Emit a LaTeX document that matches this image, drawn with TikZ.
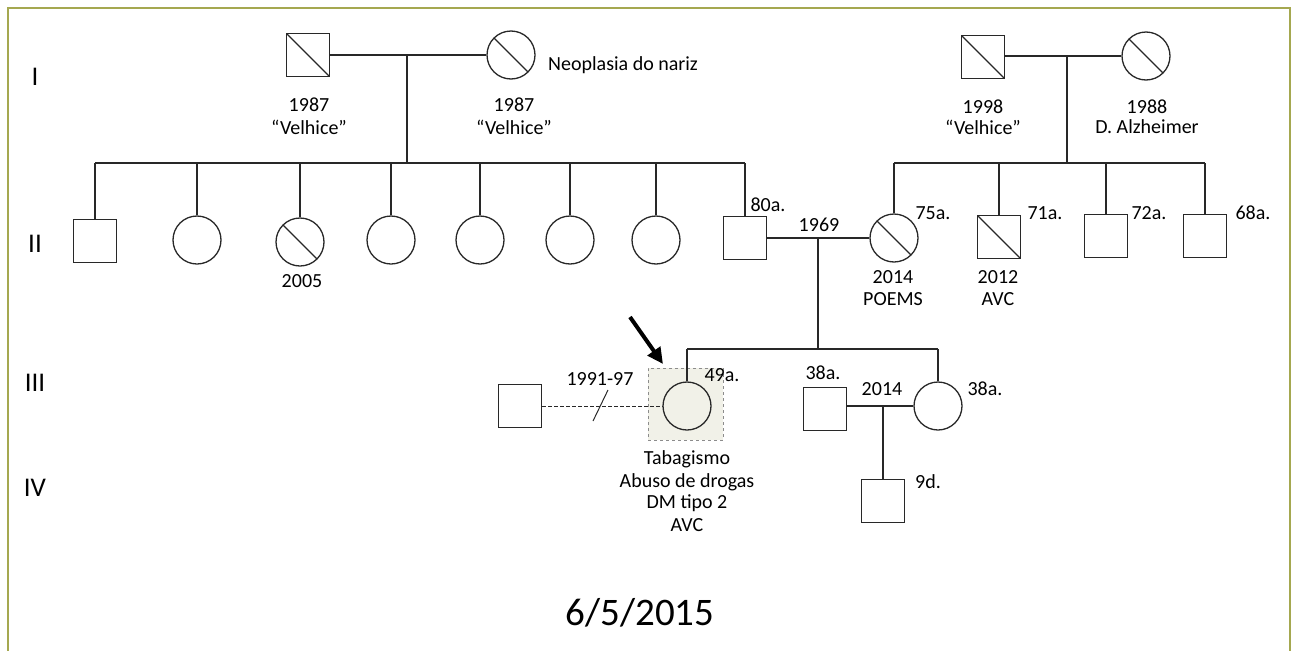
\documentclass[tikz,border=0pt]{standalone}
\usepackage{fontspec}
\setmainfont{Carlito}
\usetikzlibrary{arrows.meta}
\definecolor{frameol}{RGB}{165,168,80}
\definecolor{probfill}{RGB}{241,241,232}
\definecolor{ln}{RGB}{40,40,40}
\begin{document}
\begin{tikzpicture}[x=1pt,y=-1pt,
 every node/.style={font=\fontsize{20}{24}\selectfont, text=black},
 male/.style={draw=ln, line width=1.3pt, rectangle, minimum size=43pt, inner sep=0pt, fill=white},
 female/.style={draw=ln, line width=1.3pt, circle, minimum size=48pt, inner sep=0pt, fill=white},
 dead/.style={path picture={\draw[ln,line width=1.3pt] (path picture bounding box.north west) -- (path picture bounding box.south east);}},
 lbl/.style={inner sep=0pt},
 rel/.style={draw=ln, line width=1.3pt},
 gen/.style={font=\fontsize{27}{30}\selectfont, inner sep=0pt}
]
\useasboundingbox (0,0) rectangle (1294,651);
% frame
\draw[frameol, line width=2pt] (8,700) -- (8,8) -- (1290,8) -- (1290,700);

% generation labels
\node[gen] (gI) at (35,77) {I};
\node[gen] (gII) at (35,244) {II};
\node[gen] (gIII) at (35,383) {III};
\node[gen] (gIV) at (35,488) {IV};

% Generation I left
\node[male,dead] (A1) at (308,55) {};
\node[female,dead] (A2) at (511,55) {};
\node[lbl] (A1y) at (309,105) {1987};
\node[lbl] (A1c) at (309,127) {“Velhice”};
\node[lbl] (A2y) at (514,105) {1987};
\node[lbl] (A2c) at (514,127) {“Velhice”};
\node[lbl,anchor=west] (A2n) at (548,65) {Neoplasia do nariz};

% Generation I right
\node[male,dead] (B1) at (983,57) {};
\node[female,dead] (B2) at (1146,56) {};
\node[lbl] (B1y) at (983,107) {1998};
\node[lbl] (B1c) at (983,127) {“Velhice”};
\node[lbl] (B2y) at (1147,107) {1988};
\node[lbl] (B2c) at (1147,127) {D. Alzheimer};

% Generation II left sibship
\node[male] (c1) at (95,241) {};
\node[female] (c2) at (197,240) {};
\node[female,dead] (c3) at (300,242) {};
\node[female] (c4) at (391,240) {};
\node[female] (c5) at (480,240) {};
\node[female] (c6) at (570,240) {};
\node[female] (c7) at (656,240) {};
\node[male] (c8) at (745,238) {};
\node[lbl] (c3y) at (302,281) {2005};
\node[lbl] (c8a) at (768,205) {80a.};

% Generation II right sibship
\node[female,dead] (d1) at (894,238) {};
\node[male,dead] (d2) at (999,237) {};
\node[male] (d3) at (1106,236) {};
\node[male] (d4) at (1205,236) {};
\node[lbl] (d1a) at (933,213) {75a.};
\node[lbl] (d1y) at (893,277) {2014};
\node[lbl] (d1c) at (893,299) {POEMS};
\node[lbl] (d2a) at (1045,213) {71a.};
\node[lbl] (d2y) at (998,277) {2012};
\node[lbl] (d2c) at (998,299) {AVC};
\node[lbl] (d3a) at (1149,213) {72a.};
\node[lbl] (d4a) at (1253,213) {68a.};
\node[lbl] (m3y) at (819,225) {1969};

% Generation III
\node[draw=black!45, dashed, line width=0.7pt, fill=probfill, minimum width=75pt, minimum height=72pt, inner sep=0pt] (pbox) at (685.5,404) {};
\node[female, fill=probfill] (P) at (687,406) {};
\node[male] (X) at (520,406) {};
\node[male] (Q) at (825,409) {};
\node[female] (R) at (938,406) {};
\node[lbl] (Pa) at (722,375) {49a.};
\node[lbl] (Xy) at (600,379) {1991-97};
\node[lbl] (Qa) at (823,373) {38a.};
\node[lbl] (Ra) at (985,389) {38a.};
\node[lbl] (QRy) at (882,389) {2014};
\node[lbl] (P1) at (687,459) {Tabagismo};
\node[lbl] (P2) at (687,482) {Abuso de drogas};
\node[lbl] (P3) at (687,503) {DM tipo 2};
\node[lbl] (P4) at (687,525) {AVC};

% Generation IV
\node[male] (S) at (883,501) {};
\node[lbl] (Sa) at (928,482) {9d.};

% date
\node[font=\fontsize{39}{44}\selectfont, inner sep=0pt] (date) at (640,613) {6/5/2015};

% connectors gen I left
\coordinate (m1) at (407,55);
\coordinate (s1) at (407,163);
\draw[rel] (A1.east) -- (A2.west);
\draw[rel] (m1) -- (s1);
\draw[rel] (c1.north |- s1) -- (c8.north |- s1);
\foreach \c in {c1,c2,c3,c4,c5,c6,c7,c8} \draw[rel] (\c.north) -- (\c.north |- s1);

% connectors gen I right
\coordinate (m2) at (1067,56);
\coordinate (s2) at (1067,163);
\draw[rel] (B1.east |- m2) -- (B2.west);
\draw[rel] (m2) -- (s2);
\draw[rel] (d1.north |- s2) -- (d4.north |- s2);
\foreach \c in {d1,d2,d3,d4} \draw[rel] (\c.north) -- (\c.north |- s2);

% marriage II
\coordinate (m3) at (818,238);
\coordinate (s3) at (818,349);
\draw[rel] (c8.east) -- (d1.west);
\draw[rel] (m3) -- (s3);
\draw[rel] (P.north |- s3) -- (R.north |- s3);
\draw[rel] (P.north) -- (P.north |- s3);
\draw[rel] (R.north) -- (R.north |- s3);

% gen III relations
\draw[ln, line width=1pt, dash pattern=on 4pt off 2pt] (X.east) -- (P.west);
\coordinate (sl1) at (593,421);
\coordinate (sl2) at (608,390);
\draw[ln, line width=1pt] (sl1) -- (sl2);
\coordinate (m4) at (883,406);
\draw[rel] (Q.east |- R.west) -- (R.west);
\draw[rel] (m4) -- (S.north);

% proband arrow
\coordinate (ar1) at (630,317);
\coordinate (ar2) at (663,364);
\draw[black, line width=4pt, -{Triangle[length=16pt,width=15pt]}] (ar1) -- (ar2);
\end{tikzpicture}
\end{document}
